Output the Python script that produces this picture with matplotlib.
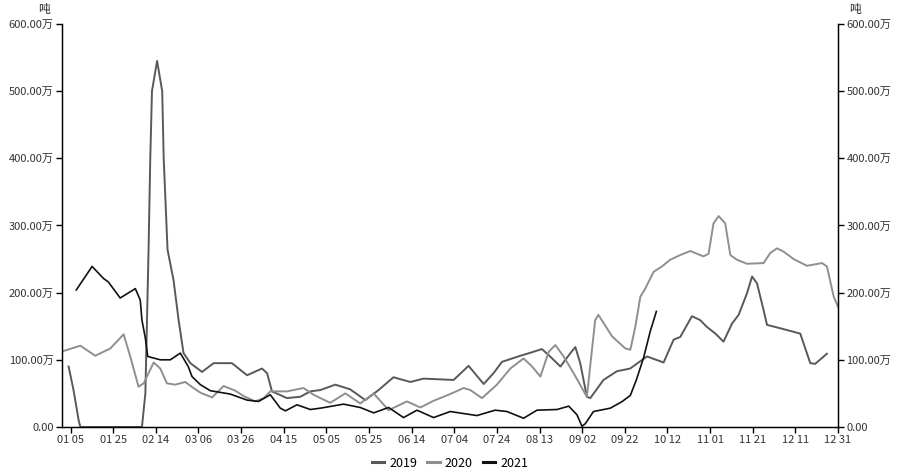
import matplotlib.pyplot as plt
import numpy as np

plt.rcParams['font.family'] = ['Noto Sans CJK SC', 'DejaVu Sans']

# day of year (0 = 01-01), values in 万吨
days2019 = [3.1, 5.4, 7.8, 8.6, 20, 30, 37.5, 39.1, 40.6, 41.4, 42.2, 44.6, 47.0, 47.7, 49.5,
            52.3, 54.7, 57.0, 60.2, 65.7, 71.1, 79.7, 86.8, 93.8, 96.2, 98.5, 105.5, 111.8,
            116.5, 121.2, 128.2, 135.2, 142.3, 148.5, 155.5, 163.4, 169.6, 183.7, 190.7,
            197.8, 202.4, 206.4, 215, 221.2, 225.1, 228.3, 233.8, 238.5, 240.8, 243.1, 246.2,
            247.8, 254, 260.3, 266.5, 274.4, 282.2, 286.9, 290, 295.5, 299.4, 302.5, 306.5,
            310.3, 314.3, 317.4, 321.3, 323.7, 326, 329.1, 330.7, 336.9, 346.3, 351, 353.3, 358.8]
vals2019 = [90, 55, 10, 0, 0, 0, 0, 50, 264, 400, 500, 545, 500, 400, 264,
            219, 159, 110, 95, 82, 95, 95, 77, 87, 80, 53, 43, 45,
            53, 55, 63, 56, 40, 55, 74, 67, 72, 70, 91,
            64, 80, 97, 106, 112, 116, 107, 90, 110, 119, 95, 45,
            43, 70, 83, 87, 105, 96, 130, 134, 165, 159, 149, 139,
            127, 154, 167, 199, 224, 214, 174, 152, 147, 139, 95, 94, 109]

days2020 = [0.6, 8.6, 15.6, 22.7, 28.9, 32, 35.9, 38.3, 43, 46.1, 49.2, 53.1, 57.8, 61.7,
            64.9, 70.4, 75.8, 81.3, 85.2, 90.7, 94.6, 97.7, 105.5, 113.3, 118, 121.2, 125.8,
            132.9, 139.9, 146.2, 153.2, 161.8, 168.1, 174.3, 182.1, 188.4, 191.5, 197, 204,
            210.3, 216.5, 220.5, 224.4, 228.3, 231.4, 235.3, 240, 246.2, 250.1, 251.6, 258,
            264.2, 266.6, 268.9, 271.3, 273.6, 277.5, 281.4, 285.3, 290, 294.7, 300.9, 303.3,
            305.6, 308, 311.1, 313.5, 316.6, 321.3, 329.1, 332.2, 335.4, 338.5, 343.2, 349.4,
            356.5, 358.8, 362, 364]
vals2020 = [113, 121, 106, 117, 138, 105, 60, 65, 96, 87, 65, 63, 67, 58,
            51, 44, 61, 54, 46, 38, 43, 53, 53, 58, 48, 43, 36,
            50, 35, 50, 25, 38, 29, 39, 49, 58, 55, 43, 63,
            87, 102, 90, 75, 112, 122, 105, 80, 45, 159, 167, 135,
            117, 115, 149, 194, 206, 231, 239, 249, 256, 262, 254, 258,
            303, 314, 303, 256, 249, 243, 244, 259, 266, 261, 250, 240,
            244, 239, 194, 179]

days2021 = [6.7, 14.1, 19.5, 21.7, 27.3, 34.4, 36.7, 37.5, 39.1, 40.2, 46.1, 50.8, 55.5, 59.2,
            61, 64.9, 69.6, 78.9, 86.8, 92.2, 97.7, 102.4, 104.8, 110.2, 116.5, 121.2, 132.1,
            139.9, 146.2, 153.2, 160.2, 166.5, 174.3, 182.1, 188.4, 194.6, 203.2, 208.7, 216.5,
            222.8, 232.2, 237.7, 241.6, 243.9, 245.5, 249.3, 257.2, 262.8, 266.6, 269.4, 272.8,
            275.9, 278.8]
vals2021 = [204, 239, 221, 216, 192, 206, 189, 159, 132, 105, 100, 100, 110, 90,
            75, 63, 54, 49, 40, 38, 48, 28, 24, 33, 26, 28, 34,
            29, 21, 29, 14, 25, 14, 23, 20, 17, 25, 23, 13,
            25, 26, 31, 18, 1, 5, 23, 28, 38, 47, 70, 103,
            142, 172]

tick_days = [4, 24, 44, 64, 84, 104, 124, 144, 164, 184, 204, 224, 244, 264, 284, 304, 324, 344, 364]
tick_labels = ['01 05', '01 25', '02 14', '03 06', '03 26', '04 15', '05 05', '05 25', '06 14',
               '07 04', '07 24', '08 13', '09 02', '09 22', '10 12', '11 01', '11 21', '12 11', '12 31']
y_ticks = [0, 100, 200, 300, 400, 500, 600]
y_labels = ['0.00', '100.00万', '200.00万', '300.00万', '400.00万', '500.00万', '600.00万']

fig = plt.figure(figsize=(9, 4.76), dpi=100)
ax = fig.add_axes([0.0689, 0.103, 0.8622, 0.8466])

ax.plot(days2019, vals2019, color='#595959', lw=1.4, label='2019', solid_joinstyle='round')
ax.plot(days2020, vals2020, color='#8f8f8f', lw=1.4, label='2020', solid_joinstyle='round')
ax.plot(days2021, vals2021, color='#111111', lw=1.2, label='2021', solid_joinstyle='round')

ax.set_xlim(0, 364)
ax.set_ylim(0, 600)
ax.set_xticks(tick_days)
ax.set_xticklabels(tick_labels, fontsize=8, color='#333333')
ax.set_yticks(y_ticks)
ax.set_yticklabels(y_labels, fontsize=8, color='#333333')
ax.spines['top'].set_visible(False)
for s in ['left', 'right', 'bottom']:
    ax.spines[s].set_color('black')
    ax.spines[s].set_linewidth(1)
ax.tick_params(direction='out', length=4, width=1, pad=2)

ax2 = ax.twinx()
ax2.set_ylim(0, 600)
ax2.set_yticks(y_ticks)
ax2.set_yticklabels(y_labels, fontsize=8, color='#333333')
ax2.spines['top'].set_visible(False)
ax2.spines['right'].set_color('black')
ax2.tick_params(direction='out', length=4, width=1, pad=2)

fig.text(44 / 900, 1 - 10 / 476, '吨', fontsize=8.5, ha='center', va='center', color='#222222')
fig.text(855 / 900, 1 - 10 / 476, '吨', fontsize=8.5, ha='center', va='center', color='#222222')

leg = ax.legend(loc='center', bbox_to_anchor=(0.5, -0.09), ncol=3, frameon=False,
                fontsize=9, handlelength=1.0, handletextpad=0.4, columnspacing=0.8,
                borderpad=0.1)
for line in leg.get_lines():
    line.set_linewidth(2.2)

fig.savefig('out.png', dpi=100)
